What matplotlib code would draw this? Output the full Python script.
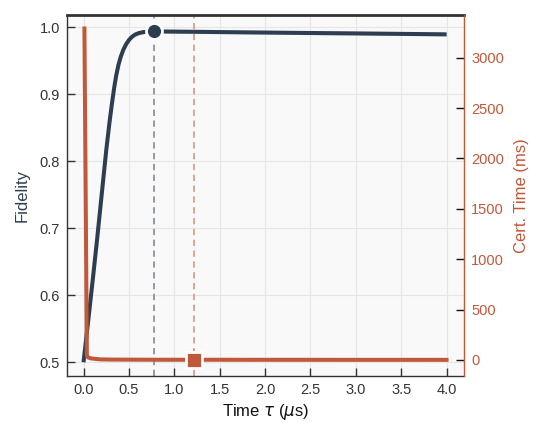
import numpy as np
import matplotlib
matplotlib.use("Agg")
import matplotlib.pyplot as plt

plt.rcParams['font.family'] = ['Liberation Sans', 'DejaVu Sans']

navy = '#2c3e50'
rust = '#c0583a'

# fidelity vs. evolution time
t_fid = [0.00, 0.05, 0.10, 0.15, 0.20, 0.25, 0.286, 0.313, 0.338, 0.36,
         0.385, 0.41, 0.44, 0.47, 0.50, 0.53, 0.569, 0.61, 0.661, 0.72,
         0.775, 1.0, 1.5, 2.0, 2.5, 3.0, 3.5, 4.0]
fidelity = [0.500, 0.560, 0.621, 0.684, 0.750, 0.816, 0.858, 0.886, 0.910,
            0.928, 0.944, 0.956, 0.967, 0.975, 0.981, 0.9855, 0.9893,
            0.9915, 0.9930, 0.9937, 0.9940, 0.9937, 0.9930, 0.9923, 0.9916,
            0.9910, 0.9903, 0.9896]
fid_err = 0.0025

# certification time (ms)
t_cert = [0.01, 0.037, 0.05, 0.085, 0.18, 0.3, 0.5, 1.0, 1.5, 2.0, 2.5,
          3.0, 3.5, 4.0]
cert_ms = [3290, 40, 25, 15, 6, 4, 3, 2, 2, 1.5, 1.5, 1.2, 1.2, 1.0]

t_best = 0.775
f_best = 0.9940
t_cert_pick = 1.22
c_pick = 1.8

fig = plt.figure(figsize=(5.44, 4.38), dpi=100)
ax = fig.add_axes([0.123, 0.1416, 0.730, 0.8242])
ax.set_facecolor('#f9f9f9')
ax.grid(True, color='#e6e6e6', lw=0.8)
ax.set_axisbelow(True)

f = np.array(fidelity)
ax.fill_between(t_fid, f - fid_err, f + fid_err, color='#9aa6b2', alpha=0.5, lw=0)
ax.plot(t_fid, fidelity, color=navy, lw=2.9, solid_capstyle='butt')
ax.axvline(t_best, color='#8a949e', ls=(0, (3.5, 2.5)), lw=1.3)
ax.axvline(t_cert_pick, color='#d9a08c', ls=(0, (3.5, 2.5)), lw=1.3)
ax.plot([t_best], [f_best], 'o', ms=11.5, color=navy, mec='white', mew=2, zorder=5)

ax.set_xlim(-0.183, 4.193)
ax.set_ylim(0.4795, 1.0185)
ax.set_xticks(np.arange(0, 4.01, 0.5))
ax.set_yticks([0.5, 0.6, 0.7, 0.8, 0.9, 1.0])
ax.tick_params(direction='in', length=6, width=1, color='#333333',
               labelcolor='#333333', labelsize=10.5, pad=5)
ax.set_xlabel(r'Time $\tau$ ($\mu$s)', fontsize=12, color='#111111')
ax.set_ylabel('Fidelity', fontsize=12, color=navy, labelpad=7.5)
for s in ['left', 'bottom']:
    ax.spines[s].set_color('#333333')
    ax.spines[s].set_linewidth(1.0)
ax.spines['top'].set_color('#333333')
ax.spines['top'].set_linewidth(2.0)
ax.spines['right'].set_visible(False)

ax2 = ax.twinx()
c = np.array(cert_ms)
ax2.fill_between(t_cert, c * 0.95, c * 1.05 + 18, color=rust, alpha=0.2, lw=0)
ax2.plot(t_cert, cert_ms, color=rust, lw=2.9)
ax2.plot([t_cert_pick], [c_pick], 's', ms=11.5, color=rust, mec='white', mew=2, zorder=5)
ax2.set_ylim(-159, 3424)
ax2.set_yticks(np.arange(0, 3001, 500))
ax2.tick_params(direction='in', length=6, width=1, color='#111111',
                labelcolor=rust, labelsize=10.5, pad=5)
ax2.set_ylabel('Cert. Time (ms)', fontsize=12, color=rust, labelpad=7)
ax2.spines['right'].set_color(rust)
ax2.spines['right'].set_linewidth(1.0)
for s in ['left', 'top', 'bottom']:
    ax2.spines[s].set_visible(False)

fig.savefig('out.png', dpi=100)
